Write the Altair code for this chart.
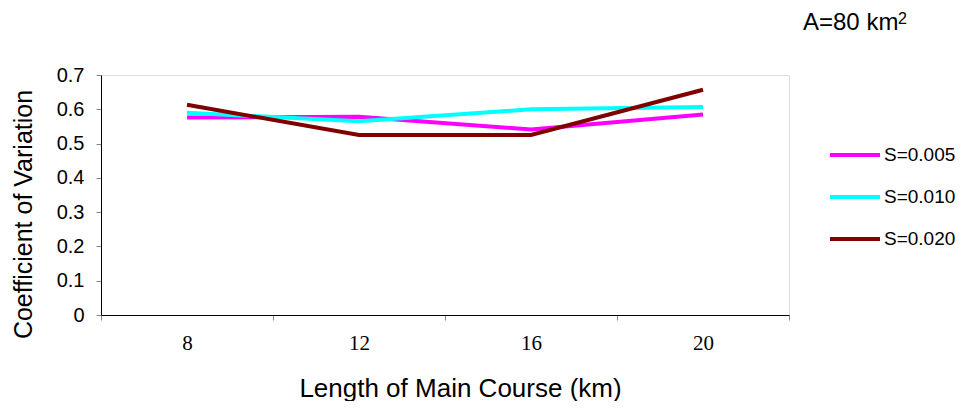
import altair as alt
import pandas as pd

lengths = ["8", "12", "16", "20"]
s005 = [0.576, 0.578, 0.541, 0.585]
s010 = [0.590, 0.565, 0.600, 0.607]
s020 = [0.613, 0.525, 0.525, 0.657]
series_names = ["S=0.005", "S=0.010", "S=0.020"]
series_colors = ["#FF00FF", "#00FFFF", "#800000"]
title_main = "A=80 km"
title_sup = "2"

rows = []
for name, vals in zip(series_names, [s005, s010, s020]):
    for L, v in zip(lengths, vals):
        rows.append({"Length": L, "CV": v, "Series": name})
df = pd.DataFrame(rows)

lines = alt.Chart(df).mark_line(strokeWidth=4).encode(
    x=alt.X("Length:O", sort=lengths,
            scale=alt.Scale(type="band", paddingInner=0, paddingOuter=0),
            axis=alt.Axis(title="Length of Main Course  (km)", labelAngle=0,
                          tickBand="extent", labelFont="Liberation Serif",
                          labelFontSize=21, labelPadding=12,
                          titleFont="Liberation Sans", titleFontSize=26,
                          titleFontWeight="normal", titlePadding=22, titleX=359,
                          domainColor="black", tickColor="#888888",
                          labelColor="black", titleColor="black", tickSize=5)),
    y=alt.Y("CV:Q", scale=alt.Scale(domain=[0, 0.7]),
            axis=alt.Axis(title="Coefficient of Variation", values=[0, 0.1, 0.2, 0.3, 0.4, 0.5, 0.6, 0.7],
                          format=".1~f", labelFont="Liberation Sans", labelFontSize=20,
                          titleFont="Liberation Sans", titleFontSize=25,
                          titleFontWeight="normal", titlePadding=20, titleY=139, grid=False,
                          domainColor="black", tickColor="#888888",
                          labelColor="black", titleColor="black", tickSize=5, labelPadding=12)),
    color=alt.Color("Series:N", sort=series_names,
                    scale=alt.Scale(domain=series_names, range=series_colors),
                    legend=alt.Legend(title=None, orient="none", legendX=727, legendY=53,
                                      symbolType="stroke", symbolSize=2500,
                                      symbolStrokeWidth=4, labelFont="Liberation Sans",
                                      labelFontSize=19, labelColor="black",
                                      rowPadding=5, labelOffset=2)),
)

title_df = pd.DataFrame({"t": [title_main], "s": [title_sup]})
title = alt.Chart(title_df).mark_text(
    align="left", baseline="alphabetic", font="Liberation Sans", fontSize=24, color="black"
).encode(x=alt.value(702), y=alt.value(-45), text="t:N")
sup = alt.Chart(title_df).mark_text(
    align="left", baseline="alphabetic", font="Liberation Sans", fontSize=16, color="black"
).encode(x=alt.value(797), y=alt.value(-51), text="s:N")

chart = alt.layer(lines, title, sup).properties(
    width=688, height=240,
    autosize=alt.AutoSizeParams(type="none"),
    padding={"left": 93, "top": 67, "right": 167, "bottom": 86},
).configure_view(stroke=None).configure(background="white")

chart.save("out.html", embed_options={"renderer": "svg", "actions": False})
